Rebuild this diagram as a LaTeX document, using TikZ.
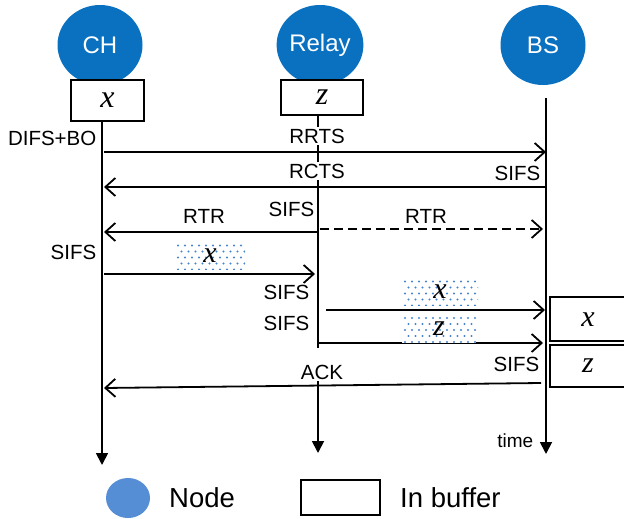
\documentclass[tikz,border=0pt]{standalone}
\usepackage{fontspec}
\setmainfont{Liberation Sans}
\newfontfamily\letterfont{Liberation Serif}
\usetikzlibrary{arrows.meta,shapes.geometric}
\definecolor{nodeblue}{RGB}{10,112,192}
\definecolor{legendblue}{RGB}{85,142,213}
\definecolor{dotblue}{RGB}{70,132,206}
\newcommand{\pkt}[1]{{\letterfont\itshape #1}}
\begin{document}
\begin{tikzpicture}[x=1pt,y=-1pt,
  station/.style={ellipse, fill=nodeblue, text=white, minimum width=85pt,
    minimum height=80pt, inner sep=0pt, font=\fontsize{24}{26}\selectfont},
  bufbox/.style={draw, line width=1.8pt, fill=white, inner sep=0pt,
    font=\fontsize{32}{34}\selectfont},
  lbl/.style={font=\fontsize{20.5}{22}\selectfont, inner sep=1.5pt},
  lblw/.style={lbl, fill=white},
  life/.style={line width=1.8pt, -{Triangle[length=12pt,width=12pt]}},
  msg/.style={line width=1.8pt, -{Straight Barb[length=10pt,width=18pt,line width=1.8pt]}},
  pktbox/.style={fill=white, inner sep=0pt, font=\fontsize{30}{32}\selectfont,
    path picture={
      \foreach \r in {0,...,4}{
        \pgfmathsetmacro\off{mod(\r,2)*3.5}
        \foreach \c in {0,...,11}{
          \fill[dotblue] ([xshift={3+\c*7+\off}, yshift={-3-\r*6}]path picture bounding box.north west) circle (1.2);
        }
      }
    }},
  legendtxt/.style={font=\fontsize{27.5}{29}\selectfont, inner sep=0pt}]
\useasboundingbox (0,0) rectangle (624,519);

% stations and their buffers
\node[station] (ch) at (100,45) {CH};
\node[station] (relay) at (320,45) {Relay};
\node[station] (bs) at (543,45) {BS};
\node[bufbox, minimum width=73pt, minimum height=41pt] (chbuf) at (107.5,100.5) {\pkt{x}};
\node[bufbox, minimum width=82pt, minimum height=35pt] (relaybuf) at (322,97.5) {\pkt{z}};

% time lines
\coordinate (chend) at (102,465);
\coordinate (relayend) at (318,453);
\coordinate (bstop) at (546,98);
\coordinate (bsend) at (546,454);
\draw[life] (chbuf.south -| chend) -- (chend);
\draw[life] (relaybuf.south -| relayend) -- (relayend);
\draw[life] (bstop) -- (bsend);

% message end points
\coordinate (rrtsA) at (104,152);   \coordinate (rrtsB) at (546,152);
\coordinate (rctsA) at (545,187);   \coordinate (rctsB) at (104,187);
\coordinate (rtrA) at (318,232);    \coordinate (rtrB) at (104,232);
\coordinate (rtrC) at (320,229);    \coordinate (rtrD) at (543,229);
\coordinate (dxA) at (104,274);     \coordinate (dxB) at (315,274);
\coordinate (rxA) at (326,310);     \coordinate (rxB) at (545,310);
\coordinate (rzA) at (318,343);     \coordinate (rzB) at (543,343);
\coordinate (ackA) at (541,383);    \coordinate (ackB) at (104,388);

% messages
\draw[msg] (rrtsA) -- (rrtsB);
\draw[msg] (rctsA) -- (rctsB);
\draw[msg] (rtrA) -- (rtrB);
\draw[msg, dash pattern=on 9pt off 5pt] (rtrC) -- (rtrD);
\draw[msg] (dxA) -- (dxB);
\draw[msg] (rxA) -- (rxB);
\draw[msg] (rzA) -- (rzB);
\draw[msg] (ackA) -- (ackB);

% labels
\node[lbl, anchor=east] (difs) at (98,138) {DIFS+BO};
\node[lblw] (rrts) at (317,136) {RRTS};
\node[lblw] (rcts) at (317,171) {RCTS};
\node[lbl, anchor=east] (sifs1) at (542,173) {SIFS};
\node[lbl] (rtr1) at (204,216) {RTR};
\node[lbl, anchor=east] (sifs2) at (316,209) {SIFS};
\node[lbl] (rtr2) at (426,216) {RTR};
\node[lbl, anchor=east] (sifs3) at (98,252) {SIFS};
\node[lbl, anchor=east] (sifs4) at (311,292) {SIFS};
\node[lbl, anchor=east] (sifs5) at (311,323) {SIFS};
\node[lbl, anchor=east] (sifs6) at (541,364) {SIFS};
\fill[white] (298,348) rectangle (346,381);
\node[lbl] (ack) at (322,372) {ACK};

% packets on the air
\node[pktbox, minimum width=70pt, minimum height=27pt] (px1) at (210,256) {\pkt{x}};
\node[pktbox, minimum width=76pt, minimum height=27pt] (px2) at (440,292) {\pkt{x}};
\node[pktbox, minimum width=74pt, minimum height=28pt] (pz) at (439,329) {\pkt{z}};

% buffer of the base station
\draw[line width=1.8pt] (626,297) -- (550,297) -- (550,341) -- (626,341);
\draw[line width=1.8pt] (626,345) -- (550,345) -- (550,387) -- (626,387);
\node[font=\fontsize{30}{32}\selectfont, inner sep=0pt] (bsx) at (588,320) {\pkt{x}};
\node[font=\fontsize{30}{32}\selectfont, inner sep=0pt] (bsz) at (588,366) {\pkt{z}};

\node[lbl, font=\fontsize{19}{20}\selectfont, anchor=east] (time) at (535,441) {time};

% legend
\node[ellipse, fill=legendblue, minimum width=44pt, minimum height=40pt] (legnode) at (128,498) {};
\node[legendtxt, anchor=west] (legnodetxt) at (169,498) {Node};
\node[draw, line width=1.8pt, minimum width=79pt, minimum height=35pt] (legbuf) at (340.5,497.5) {};
\node[legendtxt, anchor=west] (legbuftxt) at (400,498) {In buffer};
\end{tikzpicture}
\end{document}
